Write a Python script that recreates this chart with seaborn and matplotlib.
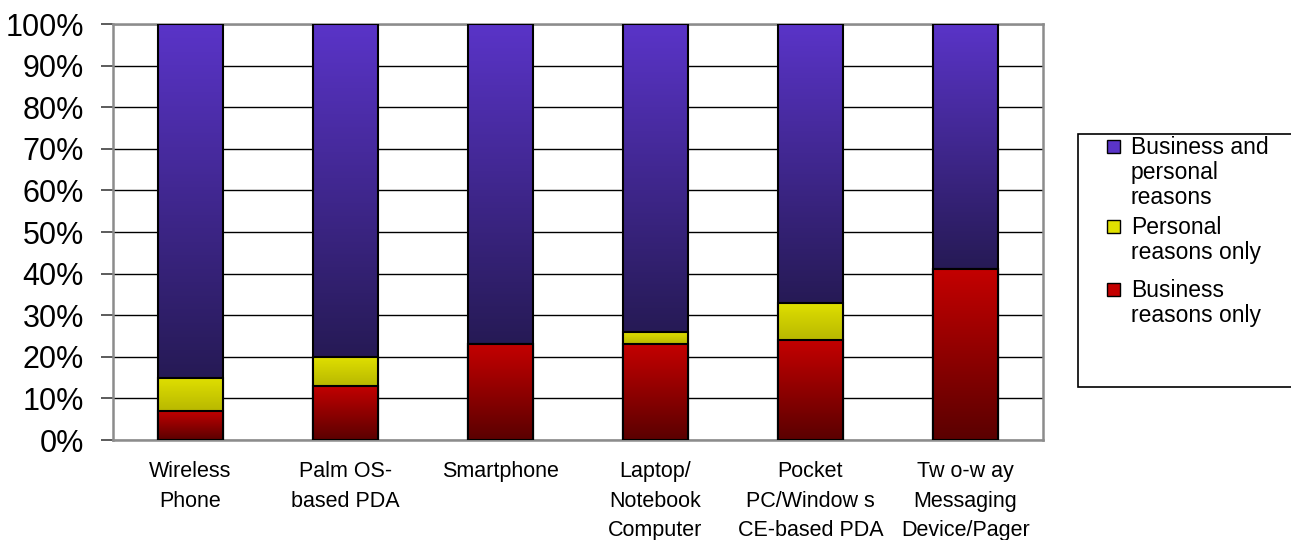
import numpy as np
import pandas as pd
import matplotlib.pyplot as plt
import seaborn as sns
from matplotlib.colors import LinearSegmentedColormap
from matplotlib.patches import Rectangle

# Datos (porcentaje de usuarios por dispositivo)
devices = ["Wireless\nPhone", "Palm OS-\nbased PDA", "Smartphone",
           "Laptop/\nNotebook\nComputer", "Pocket\nPC/Window s\nCE-based PDA",
           "Tw o-w ay\nMessaging\nDevice/Pager"]
business_only = [7, 13, 23, 23, 24, 41]
personal_only = [8, 7, 0, 3, 9, 0]
business_and_personal = [85, 80, 77, 74, 67, 59]
y_ticks = [0, 10, 20, 30, 40, 50, 60, 70, 80, 90, 100]
legend_labels = ["Business and\npersonal\nreasons", "Personal\nreasons only", "Business\nreasons only"]

df = pd.DataFrame({"device": devices, "business": business_only,
                   "personal": personal_only, "both": business_and_personal})
df["top_personal"] = df["business"] + df["personal"]
df["top_both"] = df["top_personal"] + df["both"]
zeros = [0] * len(devices)

sns.set_style("white")
plt.rcParams["font.family"] = ["Liberation Sans", "DejaVu Sans"]
plt.rcParams["text.color"] = "black"
plt.rcParams["xtick.color"] = "black"
plt.rcParams["ytick.color"] = "black"

fig = plt.figure(figsize=(12.91, 5.40), dpi=100)
ax = fig.add_axes([113 / 1291, 100 / 540, 930 / 1291, 416 / 540])

# capas: (columna superior, columna inferior, color arriba, color abajo)
layers = [("top_both", "top_personal", "#5a34c8", "#261a55"),
          ("top_personal", "business", "#e0e000", "#b8b800"),
          ("business", None, "#c40000", "#5a0000")]

gradient = np.linspace(1, 0, 256).reshape(-1, 1)
for i, (col, low_col, c_top, c_bot) in enumerate(layers):
    n_before = len(ax.patches)
    sns.barplot(data=df, x="device", y=col, color=c_top, width=0.42,
                edgecolor="black", linewidth=1.5, saturation=1, ax=ax)
    cmap = LinearSegmentedColormap.from_list(col, [c_bot, c_top])
    lows = df[low_col] if low_col else zeros
    for patch, low, high in zip(ax.patches[n_before:], lows, df[col]):
        patch.set_facecolor("none")
        patch.set_zorder(3 + 2 * i)
        if high <= low:
            continue
        x0 = patch.get_x()
        x1 = x0 + patch.get_width()
        im = ax.imshow(gradient, cmap=cmap, aspect="auto", extent=(x0, x1, low, high),
                       zorder=2 + 2 * i, interpolation="bilinear")
        im.set_clip_path(patch)

ax.set_xlim(-0.5, len(devices) - 0.5)
ax.set_ylim(0, 100)
ax.set_yticks(y_ticks)
ax.set_yticklabels([f"{v}%" for v in y_ticks], fontsize=22)
ax.set_xticks(range(len(devices)))
ax.set_xticklabels(devices, fontsize=15.5, linespacing=1.55)
ax.set_xticks(np.arange(-0.5, len(devices)), minor=True)
ax.tick_params(axis="x", which="major", length=0, pad=15)
ax.tick_params(axis="x", which="minor", length=6, color="#808080", width=1.2)
ax.tick_params(axis="y", length=9, color="#404040", width=1.2, pad=12, left=True)
ax.set_xlabel("")
ax.set_ylabel("")

ax.yaxis.grid(True, color="black", linewidth=1)
ax.set_axisbelow(True)
for s in ax.spines.values():
    s.set_visible(True)
    s.set_color("#8c8c8c")
    s.set_linewidth(1.8)
    s.set_zorder(1)

# Leyenda
fig.patches.append(Rectangle((1078 / 1291, 1 - 387 / 540), 240 / 1291, 253 / 540,
                             transform=fig.transFigure, facecolor="white",
                             edgecolor="black", linewidth=1.2))
legend_colors = [l[2] for l in layers]
legend_y = [147, 227, 290]
for label, color, yy in zip(legend_labels, legend_colors, legend_y):
    fig.patches.append(Rectangle((1107 / 1291, 1 - (yy + 6) / 540), 13 / 1291, 13 / 540,
                                 transform=fig.transFigure, facecolor=color,
                                 edgecolor="black", linewidth=1))
    fig.text(1131 / 1291, 1 - (yy - 11) / 540, label, fontsize=16.5, va="top",
             ha="left", linespacing=1.12)

plt.savefig("out.png", dpi=100)
